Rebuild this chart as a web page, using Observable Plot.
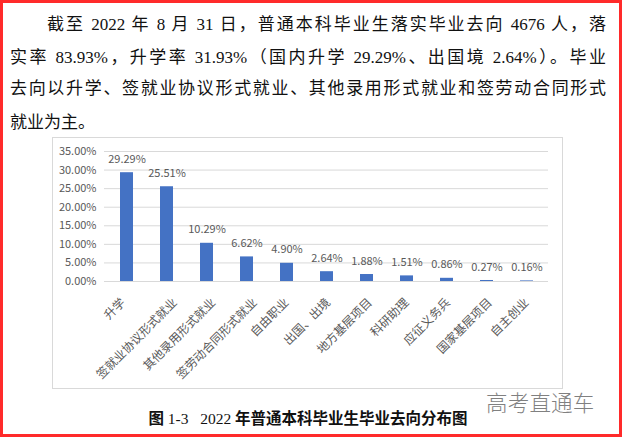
<!DOCTYPE html>
<html><head><meta charset="utf-8">
<script src="https://cdn.jsdelivr.net/npm/d3@7"></script>
<script src="https://cdn.jsdelivr.net/npm/@observablehq/plot@0.6"></script>
<style>
html,body{margin:0;padding:0;background:#fff;}
#page{position:relative;width:624px;height:440px;overflow:hidden;background:#fff;}
#frame{position:absolute;left:0;top:0;width:616px;height:431px;border:3px solid #ff2a2a;}
.para{position:absolute;left:10px;width:596px;font-family:"Liberation Serif","Noto Sans CJK SC",serif;font-size:17px;color:#111;line-height:20px;white-space:nowrap;}
.j{text-align:justify;text-align-last:justify;white-space:normal;}
#chartbox{position:absolute;left:52px;top:137px;width:509px;height:250px;border:1px solid #d9d9d9;}
#chart{position:absolute;left:0;top:0;}
#caption{position:absolute;left:0;width:616px;top:406px;text-align:center;font-size:15.5px;color:#111;white-space:pre;}
#caption .cjk{font-family:"Noto Sans CJK SC",sans-serif;font-weight:bold;}
#caption .lat{font-family:"Liberation Serif",serif;}
#wm{position:absolute;left:486px;top:386px;font-family:"Noto Sans CJK SC",sans-serif;font-weight:300;font-size:21.5px;color:#808080;letter-spacing:0.2px;}
</style></head>
<body>
<div id="page">
  <div class="para j" style="top:15px;padding-left:37px;width:559px;">截至 2022 年 8 月 31 日，普通本科毕业生落实毕业去向 4676 人，落</div>
  <div class="para j" style="top:48px;">实率 83.93%，升学率 31.93%（国内升学 29.29%、出国境 2.64%）。毕业</div>
  <div class="para j" style="top:79px;">去向以升学、签就业协议形式就业、其他录用形式就业和签劳动合同形式</div>
  <div class="para" style="top:113px;">就业为主。</div>
  <div id="chartbox"><div id="chart"></div></div>
  <div id="wm">高考直通车</div>
  <div id="caption"><span class="cjk">图</span><span class="lat"> 1-3   2022 </span><span class="cjk">年普通本科毕业生毕业去向分布图</span></div>
  <div id="frame"></div>
</div>
<script>
const categories = ["升学","签就业协议形式就业","其他录用形式就业","签劳动合同形式就业","自由职业","出国、出境","地方基层项目","科研助理","应征义务兵","国家基层项目","自主创业"];
const values = [29.29,25.51,10.29,6.62,4.90,2.64,1.88,1.51,0.86,0.27,0.16];
const yTicks = [0,5,10,15,20,25,30,35];

const data = categories.map((c,i)=>({cat:c, val:values[i]}));
const fmt = v => v.toFixed(2) + "%";

const chart = Plot.plot({
  width: 509,
  height: 250,
  marginLeft: 51,
  marginRight: 14,
  marginTop: 13,
  marginBottom: 107,
  style: {fontFamily: "'Noto Sans CJK SC', sans-serif", fontSize: "11px", color: "#595959", background: "transparent", overflow: "visible"},
  x: {domain: categories, paddingInner: 0.68, paddingOuter: 0.34, axis: null, label: null},
  y: {domain: [0,35], axis: null, label: null},
  marks: [
    Plot.gridY(yTicks, {stroke: "#d9d9d9", strokeOpacity: 1}),
    Plot.axisY(yTicks, {tickSize: 0, tickPadding: 8, tickFormat: fmt, fill: "#595959", fontSize: 11, label: null}),
    Plot.barY(data, {x: "cat", y: "val", fill: "#4472c4"}),
    Plot.text(data, {x: "cat", y: "val", text: d => fmt(d.val), dy: -13.5, fontSize: 11, fill: "#595959"}),
    ...categories.map(c => Plot.text([c], {x: d => d, y: 0, text: d => d, rotate: -45, textAnchor: "end", lineAnchor: "middle", dx: 1.68*c.length - 7, dy: 19, fontSize: 12, fill: "#595959"}))
  ]
});
document.getElementById("chart").appendChild(chart);
</script>
</body></html>
